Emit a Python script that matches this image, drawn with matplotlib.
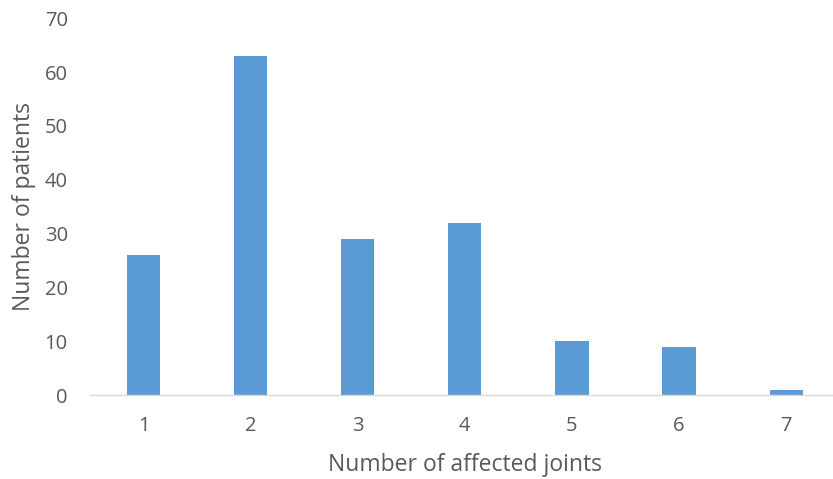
import matplotlib
matplotlib.use('Agg')
import matplotlib.pyplot as plt

# ── data ──────────────────────────────────────────────────────────────────────
joints = ['1', '2', '3', '4', '5', '6', '7']
patients = [26, 63, 29, 32, 10, 9, 1]
y_ticks = [0, 10, 20, 30, 40, 50, 60, 70]

BAR = '#5B9BD5'
TEXT = '#595959'

plt.rcParams['font.family'] = ['Open Sans', 'DejaVu Sans']

fig = plt.figure(figsize=(8.33, 4.79), dpi=100)
# plot area runs a little past the right edge, as in the source image
ax = fig.add_axes([0.108, 0.175, 0.9, 0.787])

x = range(len(joints))
ax.bar(x, patients, width=0.31, color=BAR, zorder=2)

ax.set_xlim(-0.5, len(joints) - 0.5)
ax.set_ylim(0, 70)
ax.set_xticks(list(x))
ax.set_xticklabels(joints)
ax.set_yticks(y_ticks)

for s in ('top', 'right', 'left'):
    ax.spines[s].set_visible(False)
ax.spines['bottom'].set_color('#D9D9D9')
ax.spines['bottom'].set_linewidth(1.0)

ax.tick_params(axis='both', length=0, labelsize=14.5, colors=TEXT)
ax.tick_params(axis='x', pad=15)
ax.tick_params(axis='y', pad=16)

ax.set_xlabel('Number of affected joints', fontsize=16.5, color=TEXT, labelpad=12)
ax.set_ylabel('Number of patients', fontsize=16.5, color=TEXT, labelpad=6)

fig.savefig('out.png', dpi=100)
